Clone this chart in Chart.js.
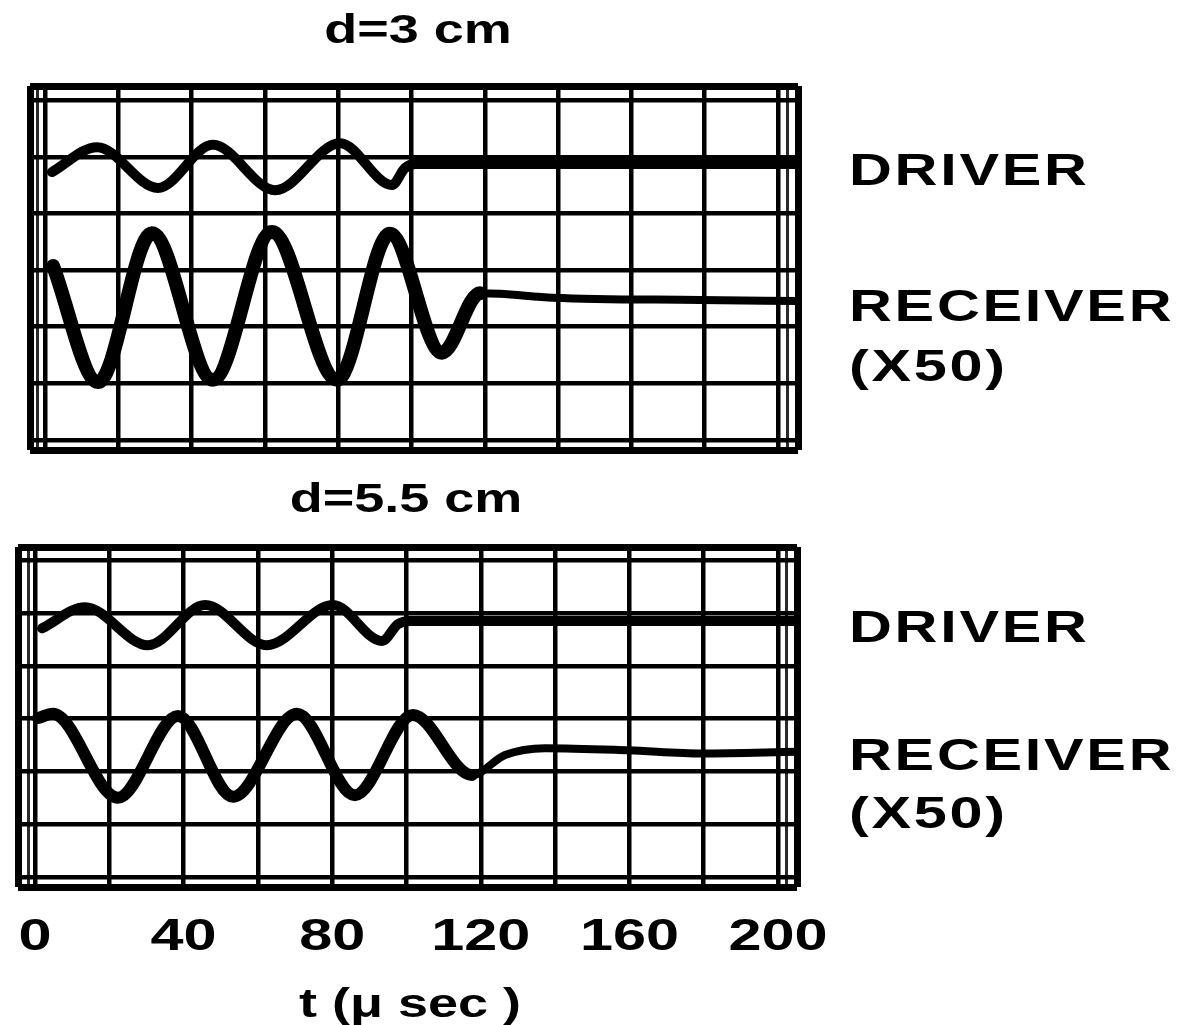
<!DOCTYPE html>
<html>
<head>
<meta charset="utf-8">
<title>Driver and receiver signals</title>
<script src="https://cdn.jsdelivr.net/npm/chart.js@4.4.1/dist/chart.umd.min.js"></script>
<style>
  html, body { margin: 0; padding: 0; background: #fff; }
  #page { position: relative; width: 1196px; height: 1025px; overflow: hidden; background: #fff; }
  canvas.cv { position: absolute; left: 0; }
  .lbl { position: absolute; font-family: "Liberation Sans", Arial, sans-serif; font-weight: bold;
         color: #000; white-space: nowrap; line-height: 1; }
  .side { left: 849px; font-size: 44px; letter-spacing: 2px; transform-origin: 0 0; transform: scaleX(1.35); }
  .mid { width: 600px; text-align: center; font-size: 40px; transform-origin: 50% 0; transform: scaleX(1.35); }
</style>
</head>
<body>
<div id="page">
  <canvas id="panelTop" class="cv" style="top:0" width="1196" height="470"></canvas>
  <canvas id="panelBottom" class="cv" style="top:470px" width="1196" height="555"></canvas>

  <div class="lbl mid" style="left:118px; top:9px;">d=3 cm</div>
  <div class="lbl side" style="top:148px;">DRIVER</div>
  <div class="lbl side" style="top:284px;">RECEIVER</div>
  <div class="lbl side" style="top:344px;">(X50)</div>

  <div class="lbl mid" style="left:106px; top:478px;">d=5.5 cm</div>
  <div class="lbl side" style="top:605px;">DRIVER</div>
  <div class="lbl side" style="top:733px;">RECEIVER</div>
  <div class="lbl side" style="top:791px;">(X50)</div>

  <div class="lbl mid" style="left:110px; top:983px;">t (μ sec )</div>
</div>

<script>
// Time axis (microseconds): labelled ticks and graticule divisions
const TICK_VALUES = [0, 40, 80, 120, 160, 200];
const TICK_LABELS = ['0', '40', '80', '120', '160', '200'];
const GRID_T = [0, 20, 40, 60, 80, 100, 120, 140, 160, 180, 200];
// Vertical graticule divisions (screen divisions, 0 = centre line)
const GRID_V = [-3, -2, -1, 0, 1, 2, 3];

// d = 3 cm : driver trace (turning points, then the flat tail)
const D3_DRIVER_T = [1.9, 14.2, 30.8, 45.8, 62.8, 80.5, 94.7, 98.2, 101, 205.5];
const D3_DRIVER_V = [1.73, 2.17, 1.45, 2.21, 1.41, 2.24, 1.50, 1.80, 1.87, 1.87];
// d = 3 cm : receiver trace (x50)
const D3_RECEIVER_T = [2.2, 14.5, 29.2, 45.8, 61.9, 79.7, 94.1, 108.3, 118.7, 124.1, 138.6, 178.7, 205.5];
const D3_RECEIVER_V = [0.07, -1.98, 0.65, -1.94, 0.67, -1.94, 0.64, -1.46, -0.41, -0.42, -0.49, -0.53, -0.55];

// d = 5.5 cm : driver trace
const D55_DRIVER_T = [1.9, 13.5, 30.4, 45.8, 62.4, 80.2, 93.4, 97.7, 100.9, 205.1];
const D55_DRIVER_V = [1.71, 2.11, 1.39, 2.15, 1.39, 2.15, 1.47, 1.79, 1.85, 1.85];
// d = 5.5 cm : receiver trace (x50)
const D55_RECEIVER_T = [0.8, 4.8, 22.3, 38.5, 53.3, 70.5, 86.1, 101.7, 117.6, 126.5, 137.3, 159.6, 179.5, 205.1];
const D55_RECEIVER_V = [0.01, 0.09, -1.50, 0.05, -1.48, 0.09, -1.45, 0.07, -1.07, -0.69, -0.56, -0.60, -0.66, -0.63];

const toPoints = (ts, vs) => ts.map((t, i) => ({ x: t, y: vs[i] }));

// Draws the time labels under a panel, stretched wide like the printed lettering
const stretchedTickLabels = {
  id: 'stretchedTickLabels',
  afterDraw(chart, args, opts) {
    if (!opts.show) return;
    const ctx = chart.ctx;
    const xs = chart.scales.x;
    ctx.save();
    ctx.font = opts.font;
    ctx.fillStyle = '#000';
    ctx.textAlign = 'center';
    ctx.textBaseline = 'alphabetic';
    TICK_VALUES.forEach((v, i) => {
      ctx.save();
      ctx.translate(xs.getPixelForValue(v), chart.chartArea.bottom + opts.offset);
      ctx.scale(opts.stretch, 1);
      ctx.fillText(TICK_LABELS[i], 0, 0);
      ctx.restore();
    });
    ctx.restore();
  }
};

function makePanel(id, driver, receiver, f) {
  // grid positions: outer frame, inner frame rule, graticule divisions
  const xLines = [f.xMin, f.xRuleL, ...GRID_T, f.xRuleR, f.xMax];
  const yLines = [f.yMin, ...GRID_V, f.yMax];
  const xWidth = v => (v === f.xMin || v === f.xMax) ? 7 : (v === f.xRuleL || v === f.xRuleR) ? 3 : 4.5;
  const yWidth = v => (v === f.yMin || v === f.yMax) ? 7 : 4.5;

  return new Chart(document.getElementById(id), {
    type: 'line',
    data: {
      datasets: [
        {
          label: 'DRIVER',
          data: toPoints(driver[0], driver[1]),
          borderColor: '#000',
          borderWidth: 10,
          pointRadius: 0,
          cubicInterpolationMode: 'monotone',
          borderCapStyle: 'round',
          borderJoinStyle: 'round',
          fill: false
        },
        {
          label: 'RECEIVER (X50)',
          data: toPoints(receiver[0], receiver[1]),
          borderColor: '#000',
          borderWidth: f.receiverWidth,
          pointRadius: 0,
          cubicInterpolationMode: 'monotone',
          borderCapStyle: 'round',
          borderJoinStyle: 'round',
          fill: false,
          segment: {
            borderWidth: c => c.p0.parsed.x >= f.tailFrom ? 8 : f.receiverWidth
          }
        }
      ]
    },
    options: {
      responsive: false,
      devicePixelRatio: 1,
      animation: false,
      events: [],
      layout: { padding: f.padding },
      plugins: {
        legend: { display: false },
        tooltip: { enabled: false },
        title: { display: false },
        stretchedTickLabels: f.labels
      },
      scales: {
        x: {
          type: 'linear',
          min: f.xMin,
          max: f.xMax,
          afterBuildTicks: s => { s.ticks = xLines.map(v => ({ value: v })); },
          ticks: { display: false },
          border: { display: false },
          grid: {
            drawTicks: false,
            color: c => (c.tick.value === f.xRuleL || c.tick.value === f.xRuleR) ? '#2a2a2a' : '#000',
            lineWidth: c => xWidth(c.tick.value)
          }
        },
        y: {
          type: 'linear',
          min: f.yMin,
          max: f.yMax,
          afterBuildTicks: s => { s.ticks = yLines.map(v => ({ value: v })); },
          ticks: { display: false },
          border: { display: false },
          grid: {
            drawTicks: false,
            color: '#000',
            lineWidth: c => yWidth(c.tick.value)
          }
        }
      }
    },
    plugins: [stretchedTickLabels]
  });
}

// Upper panel: d = 3 cm
makePanel('panelTop', [D3_DRIVER_T, D3_DRIVER_V], [D3_RECEIVER_T, D3_RECEIVER_V], {
  xMin: -4.09, xMax: 205.46, xRuleL: -2.18, xRuleR: 202.73,
  yMin: -3.18, yMax: 3.25,
  tailFrom: 118, receiverWidth: 14,
  padding: { left: 30, top: 86, right: 398, bottom: 20 },
  labels: { show: false }
});

// Lower panel: d = 5.5 cm, with the time scale underneath
makePanel('panelBottom', [D55_DRIVER_T, D55_DRIVER_V], [D55_RECEIVER_T, D55_RECEIVER_V], {
  xMin: -4.58, xMax: 205.1, xRuleL: -1.62, xRuleR: 202.4,
  yMin: -3.19, yMax: 3.25,
  tailFrom: 117, receiverWidth: 12,
  padding: { left: 18, top: 77, right: 399, bottom: 138 },
  labels: { show: true, font: 'bold 44px "Liberation Sans", Arial, sans-serif', stretch: 1.35, offset: 63 }
});
</script>
</body>
</html>
